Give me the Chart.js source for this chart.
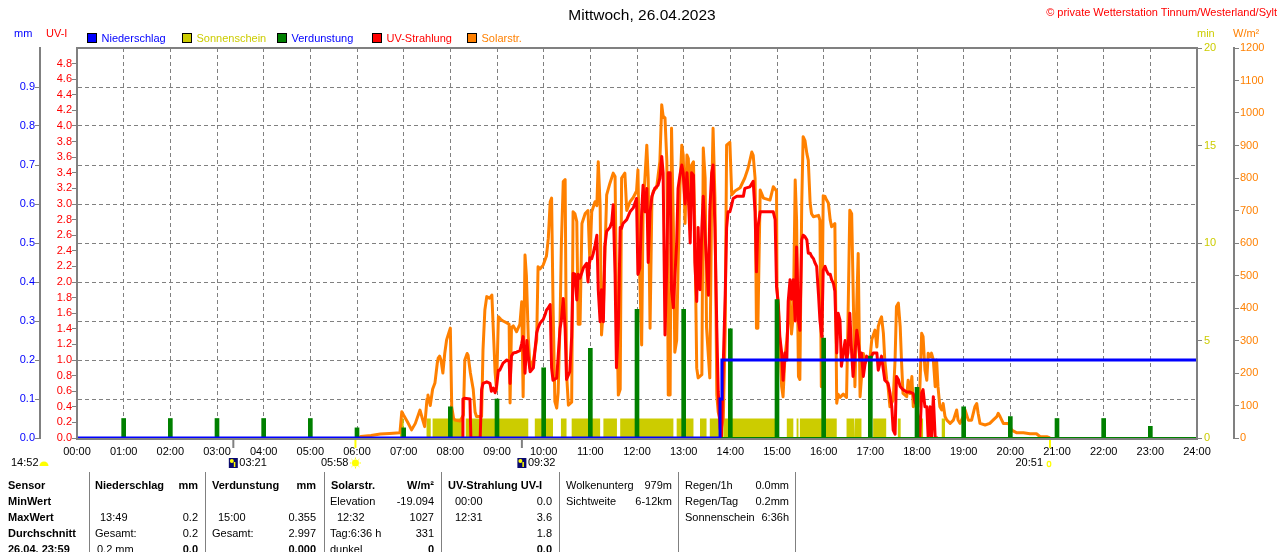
<!DOCTYPE html>
<html><head><meta charset="utf-8">
<script src="https://cdn.jsdelivr.net/npm/chart.js@4.4.0/dist/chart.umd.min.js"></script>
<style>
html,body{margin:0;padding:0;background:#fff;}
#wrap{position:relative;width:1280px;height:552px;overflow:hidden;font-family:"Liberation Sans",Arial,sans-serif;font-size:11px;color:#000;}
#c{position:absolute;left:0;top:0;}
.t{position:absolute;white-space:nowrap;line-height:14px;}
.vl{position:absolute;width:1px;background:#808080;top:472px;height:80px;}
.sq{position:absolute;width:8px;height:8px;border:1px solid #000;}
</style></head><body><div id="wrap"><canvas id="c" width="1280" height="552"></canvas></div>
<script>
// ---------- DATA ----------
const hourTicks = [0,1,2,3,4,5,6,7,8,9,10,11,12,13,14,15,16,17,18,19,20,21,22,23,24];
// Solarstrahlung [hour, W/m²]
const solar = [[6.05,0],[6.08,5],[6.3,8],[6.5,12],[6.7,14],[6.92,16],[6.96,81],[7.0,70],[7.08,50],[7.17,25],[7.25,45],[7.35,86],[7.4,60],[7.45,35],[7.5,120],[7.52,132],[7.57,100],[7.62,150],[7.67,169],[7.72,230],[7.74,246],[7.77,252],[7.8,240],[7.84,200],[7.88,260],[7.92,302],[7.96,320],[8.0,338],[8.03,96],[8.07,60],[8.1,55],[8.21,52],[8.28,71],[8.31,240],[8.36,260],[8.38,255],[8.43,200],[8.49,150],[8.53,80],[8.56,66],[8.67,66],[8.7,271],[8.74,394],[8.78,435],[8.84,430],[8.89,440],[8.93,302],[8.96,200],[8.99,148],[9.03,373],[9.08,365],[9.13,360],[9.2,355],[9.26,350],[9.28,108],[9.31,340],[9.35,345],[9.42,327],[9.49,350],[9.53,419],[9.56,127],[9.6,563],[9.63,500],[9.67,310],[9.71,215],[9.78,240],[9.85,302],[9.88,527],[9.92,520],[9.99,532],[10.06,560],[10.1,615],[10.14,727],[10.17,738],[10.2,420],[10.24,112],[10.28,92],[10.31,140],[10.35,350],[10.38,600],[10.42,789],[10.46,795],[10.49,200],[10.53,101],[10.6,110],[10.63,696],[10.67,690],[10.71,666],[10.74,350],[10.78,350],[10.82,660],[10.89,691],[10.95,700],[10.99,542],[11.03,696],[11.1,727],[11.14,715],[11.17,850],[11.21,715],[11.24,317],[11.28,400],[11.31,550],[11.35,748],[11.42,784],[11.49,815],[11.53,805],[11.56,440],[11.6,132],[11.64,150],[11.67,800],[11.74,815],[11.78,700],[11.85,727],[11.92,740],[11.99,760],[12.02,825],[12.06,492],[12.1,286],[12.13,700],[12.21,901],[12.24,800],[12.28,338],[12.32,740],[12.35,760],[12.42,770],[12.49,850],[12.53,1025],[12.56,990],[12.6,985],[12.64,850],[12.67,132],[12.71,132],[12.74,953],[12.78,650],[12.81,264],[12.85,300],[12.88,525],[12.92,769],[12.96,901],[12.99,871],[13.03,660],[13.07,871],[13.1,860],[13.14,640],[13.17,840],[13.21,850],[13.24,640],[13.28,215],[13.31,185],[13.39,195],[13.42,892],[13.46,800],[13.49,340],[13.56,185],[13.6,740],[13.63,953],[13.67,740],[13.71,132],[13.74,80],[13.81,31],[13.85,60],[13.89,330],[13.92,901],[13.99,910],[14.03,748],[14.1,760],[14.21,770],[14.31,800],[14.38,830],[14.46,880],[14.49,870],[14.53,800],[14.56,338],[14.59,338],[14.64,763],[14.71,738],[14.85,732],[14.92,773],[14.99,760],[15.0,465],[15.03,400],[15.06,300],[15.1,158],[15.13,127],[15.17,250],[15.21,300],[15.28,435],[15.31,320],[15.35,380],[15.39,794],[15.42,670],[15.46,189],[15.49,180],[15.53,720],[15.56,927],[15.6,915],[15.64,875],[15.67,855],[15.71,723],[15.74,690],[15.78,681],[15.89,685],[15.92,670],[15.95,158],[15.99,745],[16.03,743],[16.06,733],[16.1,723],[16.14,671],[16.17,650],[16.24,660],[16.28,107],[16.31,135],[16.35,125],[16.42,135],[16.49,125],[16.52,350],[16.56,701],[16.6,690],[16.63,470],[16.67,158],[16.71,415],[16.74,568],[16.78,127],[16.85,260],[16.89,230],[16.92,240],[16.99,240],[17.03,302],[17.1,332],[17.14,280],[17.17,343],[17.21,363],[17.24,373],[17.28,322],[17.31,240],[17.35,180],[17.38,158],[17.42,96],[17.49,117],[17.53,240],[17.56,405],[17.6,415],[17.64,343],[17.67,230],[17.7,137],[17.78,127],[17.81,178],[17.85,137],[17.89,189],[17.92,96],[17.96,117],[18.02,96],[18.06,148],[18.1,322],[18.13,312],[18.17,210],[18.21,178],[18.24,261],[18.28,250],[18.31,261],[18.35,240],[18.39,158],[18.42,240],[18.45,158],[18.49,96],[18.53,86],[18.56,106],[18.6,66],[18.64,55],[18.71,45],[18.78,55],[18.85,86],[18.88,55],[18.92,45],[18.99,66],[19.03,86],[19.1,55],[19.17,55],[19.24,96],[19.28,106],[19.31,76],[19.35,45],[19.46,40],[19.56,45],[19.63,55],[19.71,66],[19.74,76],[19.78,66],[19.85,45],[19.96,45],[20.03,24],[20.14,16],[20.28,16],[20.42,13],[20.56,13],[20.64,4],[20.78,4],[20.85,0]];
// UV-Strahlung [hour, UV-I]
const uv = [[8.25,0],[8.27,0.5],[8.3,0.51],[8.42,0.5],[8.44,0],[8.64,0],[8.67,0.62],[8.7,0.7],[8.78,0.72],[8.85,0.7],[8.88,0.6],[8.92,0.64],[8.96,0.58],[8.99,0.66],[9.03,0.87],[9.06,0.87],[9.13,0.96],[9.21,1.0],[9.26,0.98],[9.28,0.7],[9.31,1.05],[9.35,1.09],[9.42,1.1],[9.49,1.12],[9.53,1.21],[9.56,1.3],[9.6,0.83],[9.64,1.25],[9.67,1.05],[9.71,0.85],[9.78,0.9],[9.81,1.1],[9.85,1.35],[9.88,1.41],[9.92,1.47],[9.96,1.5],[9.99,1.52],[10.03,1.58],[10.06,1.64],[10.1,1.67],[10.14,1.71],[10.17,0.9],[10.2,0.74],[10.28,0.77],[10.31,1.04],[10.35,1.4],[10.38,1.51],[10.42,1.79],[10.46,1.4],[10.49,0.75],[10.56,0.85],[10.6,1.3],[10.63,2.11],[10.67,2.1],[10.71,1.77],[10.74,2.1],[10.78,2.05],[10.85,2.18],[10.92,2.24],[10.95,2.0],[10.99,2.31],[11.03,2.3],[11.06,2.36],[11.1,2.47],[11.14,2.6],[11.17,1.9],[11.21,1.49],[11.24,1.9],[11.28,1.49],[11.31,2.45],[11.35,2.65],[11.42,2.7],[11.46,2.77],[11.49,2.99],[11.53,2.1],[11.56,0.9],[11.6,1.41],[11.64,2.7],[11.67,2.69],[11.7,2.75],[11.78,2.8],[11.85,2.9],[11.92,2.95],[11.99,3.07],[12.02,2.1],[12.06,2.18],[12.1,2.9],[12.13,3.24],[12.17,2.9],[12.21,3.2],[12.24,2.25],[12.28,2.9],[12.32,3.1],[12.38,3.2],[12.45,3.24],[12.49,3.33],[12.53,3.61],[12.56,3.4],[12.6,1.32],[12.64,2.25],[12.67,3.4],[12.71,3.4],[12.74,1.9],[12.78,1.67],[12.81,2.05],[12.85,2.5],[12.88,3.2],[12.92,3.37],[12.96,3.5],[12.99,3.4],[13.03,3.0],[13.07,3.4],[13.1,3.1],[13.14,2.5],[13.17,3.4],[13.21,3.37],[13.24,2.25],[13.28,1.75],[13.31,2.7],[13.35,1.9],[13.39,2.7],[13.42,3.1],[13.46,2.6],[13.49,2.25],[13.53,1.83],[13.56,2.9],[13.6,3.4],[13.63,3.5],[13.67,2.7],[13.71,1.41],[13.74,0.6],[13.78,0.13],[13.81,0],[13.85,0.98],[13.89,1.83],[13.92,2.69],[13.95,2.9],[13.99,2.9],[14.03,2.99],[14.06,3.07],[14.14,3.1],[14.28,3.1],[14.31,3.2],[14.42,3.22],[14.49,3.29],[14.53,2.9],[14.56,2.13],[14.59,2.7],[14.64,2.9],[14.71,2.9],[14.92,2.9],[14.96,2.8],[14.99,1.94],[15.03,1.7],[15.06,1.3],[15.1,1.09],[15.13,0.74],[15.17,1.09],[15.21,1.0],[15.24,1.75],[15.28,2.03],[15.31,1.78],[15.35,2.03],[15.39,1.5],[15.42,2.45],[15.46,1.5],[15.49,1.38],[15.53,2.54],[15.56,2.6],[15.6,2.58],[15.64,2.54],[15.67,2.37],[15.71,2.37],[15.74,2.33],[15.78,2.3],[15.81,2.25],[15.85,2.2],[15.89,1.83],[15.92,1.51],[15.96,1.3],[15.99,2.15],[16.03,2.2],[16.06,2.15],[16.1,2.1],[16.14,2.1],[16.17,2.03],[16.21,1.98],[16.24,1.88],[16.28,1.09],[16.31,1.6],[16.35,1.51],[16.38,0.92],[16.42,1.09],[16.46,1.25],[16.49,1.0],[16.52,1.09],[16.56,1.6],[16.6,1.09],[16.63,0.79],[16.67,1.09],[16.71,1.38],[16.74,1.25],[16.78,1.0],[16.81,1.09],[16.85,0.79],[16.89,0.96],[16.92,1.05],[16.99,1.0],[17.06,1.09],[17.14,1.09],[17.17,0.87],[17.24,1.05],[17.28,0.87],[17.31,0.74],[17.38,0.7],[17.42,0.58],[17.46,0.4],[17.49,0.1],[17.53,0.05],[17.56,0.79],[17.6,0.75],[17.64,0.66],[17.7,0.62],[17.78,0.59],[17.85,0.59],[17.92,0.57],[17.96,0.45],[17.99,0.53],[18.02,0.23],[18.06,0],[18.1,0.58],[18.13,0.62],[18.17,0.4],[18.21,0.4],[18.24,0],[18.28,0.4],[18.31,0],[18.35,0.53],[18.39,0],[18.45,0]];
// Sonnenschein: sunny intervals [start hour, end hour], value 1 min per minute
const sunIntervals = [[6.92,7.0],[7.49,7.58],[7.62,8.28],[8.33,9.67],[9.81,10.2],[10.37,10.49],[10.6,11.21],[11.28,11.57],[11.64,12.78],[12.85,13.21],[13.35,13.49],[13.56,13.77],[13.85,14.96],[15.21,15.35],[15.42,15.46],[15.49,16.28],[16.49,16.65],[16.67,16.81],[17.06,17.34],[17.59,17.65],[18.05,18.13],[18.53,18.6]];
const sunValue = 1;
// Verdunstung hourly [hour, mm]
const evap = [[1,0.05],[2,0.05],[3,0.05],[4,0.05],[5,0.05],[6,0.026],[7,0.026],[8,0.08],[9,0.10],[10,0.18],[11,0.23],[12,0.33],[13,0.33],[14,0.28],[15,0.355],[16,0.256],[17,0.21],[18,0.13],[19,0.08],[20,0.055],[21,0.05],[22,0.05],[23,0.03]];
// Niederschlag cumulative [hour, mm]
const rain = [[0,0],[13.78,0.1],[13.82,0.2],[24,0.2]];
// Sun / moon events [hour, label, kind]
const events = [[3.35,'03:21','moon'],[5.9667,'05:58','sunrise'],[9.5333,'09:32','moon'],[20.85,'20:51','sunset']];

// ---------- CHART ----------
const F = '"Liberation Sans", Arial, sans-serif';
Chart.defaults.font.family = F;
Chart.defaults.font.size = 11;
const GRAY = '#808080';
const pts = arr => arr.map(p => ({x:p[0], y:p[1]}));
const sunPts = [];
sunIntervals.forEach(([s,e]) => { sunPts.push({x:s,y:0},{x:s,y:sunValue},{x:e,y:sunValue},{x:e,y:0}); });
const pad2 = v => (v<10?'0':'')+v;

const framePlugin = {
  id:'frame',
  afterDatasetsDraw(chart){
    const {ctx, chartArea:a} = chart;
    ctx.save(); ctx.strokeStyle=GRAY; ctx.lineWidth=2;
    ctx.strokeRect(a.left, a.top, a.right-a.left, a.bottom-a.top+1);
    ctx.restore();
  }
};
const eventPlugin = {
  id:'events',
  afterDraw(chart){
    const {ctx, chartArea:a} = chart; const xs = chart.scales.x;
    ctx.save();
    ctx.font = '11px '+F; ctx.textBaseline='middle'; ctx.fillStyle='#000';
    const y = 463;
    ctx.textAlign='left'; ctx.fillText('14:52', 11, y);
    ctx.fillStyle='#FFFF00'; ctx.beginPath(); ctx.arc(44, 466, 4.5, Math.PI, 0); ctx.closePath(); ctx.fill();
    events.forEach(([t,lab,kind]) => {
      const x = xs.getPixelForValue(t);
      const sun = kind==='sunrise'||kind==='sunset';
      ctx.strokeStyle = sun ? '#FFFF00' : GRAY; ctx.lineWidth = 2;
      ctx.beginPath(); ctx.moveTo(x, a.bottom+2); ctx.lineTo(x, a.bottom+10); ctx.stroke();
      ctx.fillStyle='#000';
      if (sun) {
        ctx.textAlign='right'; ctx.fillText(lab, x-7, y);
        if (kind==='sunrise') {
          ctx.fillStyle='#FFFF00'; ctx.beginPath(); ctx.arc(x, y, 3.5, 0, Math.PI*2); ctx.fill();
          ctx.strokeStyle='#FFFF00'; ctx.lineWidth=1;
          for (let k=0;k<8;k++){ const an=k*Math.PI/4; ctx.beginPath(); ctx.moveTo(x+Math.cos(an)*4,y+Math.sin(an)*4); ctx.lineTo(x+Math.cos(an)*5.5,y+Math.sin(an)*5.5); ctx.stroke(); }
        } else {
          ctx.strokeStyle='#FFFF00'; ctx.lineWidth=1.2; ctx.beginPath(); ctx.ellipse(x-1, y+1, 1.8, 2.6, 0, 0, Math.PI*2); ctx.stroke();
        }
      } else {
        ctx.fillStyle='#0A0A6E'; ctx.fillRect(x-4.5, y-5, 9, 10);
        ctx.fillStyle='#FFFF00'; ctx.beginPath(); ctx.arc(x-1.5, y-2, 2, 0, Math.PI*2); ctx.fill();
        ctx.fillRect(x+0.5, y-1, 1.5, 5);
        ctx.fillStyle='#000'; ctx.textAlign='left'; ctx.fillText(lab, x+6, y);
      }
    });
    ctx.restore();
  }
};

new Chart(document.getElementById('c'), {
  type:'line',
  data:{ datasets:[
    {label:'Niederschlag', data:pts(rain), yAxisID:'mm', borderColor:'#0000FF', borderWidth:3, stepped:'before', pointRadius:0, fill:false},
    {type:'bar', label:'Verdunstung', data:pts(evap), yAxisID:'mm', backgroundColor:'#008000', barThickness:4, borderWidth:0},
    {label:'Verdunstung0', data:[{x:0,y:0},{x:24,y:0}], yAxisID:'mm', borderColor:'#008000', borderWidth:2, pointRadius:0, fill:false},
    {label:'UV-Strahlung', data:pts(uv), yAxisID:'uv', borderColor:'#FF0000', borderWidth:3, pointRadius:0, fill:false, borderJoinStyle:'round', tension:0},
    {label:'Solarstr.', data:pts(solar), yAxisID:'w', borderColor:'#FF8000', borderWidth:3, pointRadius:0, fill:false, borderJoinStyle:'round', tension:0},
    {label:'Sonnenschein', data:sunPts, yAxisID:'min', borderColor:'rgba(0,0,0,0)', borderWidth:0, backgroundColor:'#CCCC00', fill:'origin', pointRadius:0}
  ]},
  options:{
    responsive:false, animation:false, events:[],
    layout:{padding:{top:48,left:0,right:0,bottom:0}},
    plugins:{legend:{display:false}, tooltip:{enabled:false}},
    scales:{
      x:{type:'linear', position:'bottom', min:0, max:24, offset:false,
         afterBuildTicks: s => { s.ticks = hourTicks.map(v=>({value:v})); },
         ticks:{padding:7, color:'#000', maxRotation:0, autoSkip:false, callback:v=>pad2(v)+':00'},
         grid:{color:GRAY, lineWidth:1, drawTicks:false, offset:false},
         border:{display:false, dash:[4,3]},
         afterFit: s => { s.height = 114; }},
      mm:{type:'linear', position:'left', min:0, max:1, weight:2,
         ticks:{stepSize:0.1, padding:0, color:'#0000FF', autoSkip:false, callback:v=> v>0.95?'':v.toFixed(1)},
         grid:{color:GRAY, lineWidth:1, tickLength:5, tickColor: c => (c.tick && c.tick.value>0.95)?'rgba(0,0,0,0)':GRAY},
         border:{display:true, color:GRAY, width:2, dash:[4,3]},
         afterFit: s => { s.width = 40; }},
      uv:{type:'linear', position:'left', min:0, max:5, weight:1,
         ticks:{stepSize:0.2, padding:0, color:'#FF0000', autoSkip:false, callback:v=> v>4.9?'':v.toFixed(1)},
         grid:{drawOnChartArea:false, color:GRAY, tickLength:5, tickColor: c => (c.tick && c.tick.value>4.9)?'rgba(0,0,0,0)':GRAY},
         border:{display:false},
         afterFit: s => { s.width = 37; }},
      min:{type:'linear', position:'right', min:0, max:20, weight:1,
         ticks:{stepSize:5, padding:2, color:'#CCCC00', autoSkip:false, callback:v=>String(v)},
         grid:{drawOnChartArea:false, color:GRAY, tickLength:5},
         border:{display:false},
         afterFit: s => { s.width = 37; }},
      w:{type:'linear', position:'right', min:0, max:1200, weight:2,
         ticks:{stepSize:100, padding:1, color:'#FF8000', autoSkip:false, callback:v=>String(v)},
         grid:{drawOnChartArea:false, color:GRAY, tickLength:5},
         border:{display:true, color:GRAY, width:2},
         afterFit: s => { s.width = 46; }}
    }
  },
  plugins:[framePlugin, eventPlugin]
});

// ---------- TEXT OVERLAYS ----------
const wrap = document.getElementById('wrap');
function T(txt, x, y, o){
  o = o||{};
  const d = document.createElement('div'); d.className='t'; d.textContent = txt;
  const fs = o.size||11; const lh = Math.round(fs*1.3);
  d.style.fontSize = fs+'px'; d.style.lineHeight = lh+'px';
  d.style.top = (y - lh/2)+'px';
  if (o.align==='right') d.style.right = (1280-x)+'px';
  else if (o.align==='center') { d.style.left=(x-300)+'px'; d.style.width='600px'; d.style.textAlign='center'; }
  else d.style.left = x+'px';
  if (o.color) d.style.color = o.color;
  if (o.bold) d.style.fontWeight='bold';
  wrap.appendChild(d);
}
function SQ(x,y,c){ const d=document.createElement('div'); d.className='sq'; d.style.left=x+'px'; d.style.top=y+'px'; d.style.background=c; wrap.appendChild(d); }
function VL(x){ const d=document.createElement('div'); d.className='vl'; d.style.left=x+'px'; wrap.appendChild(d); }

T('Mittwoch, 26.04.2023', 642, 15, {align:'center', size:15.5});
T('\u00A9 private Wetterstation Tinnum/Westerland/Sylt', 1277, 12, {align:'right', color:'#FF0000'});
T('mm', 14, 33, {color:'#0000FF'});
T('UV-I', 46, 33, {color:'#FF0000'});
T('min', 1197, 33, {color:'#CCCC00'});
T('W/m\u00B2', 1233, 33, {color:'#FF8000'});
const legend = [[87,'Niederschlag','#0000FF','#0000FF'],[182,'Sonnenschein','#CCCC00','#CCCC00'],[277,'Verdunstung','#008000','#0000FF'],[372,'UV-Strahlung','#FF0000','#FF0000'],[467,'Solarstr.','#FF8000','#FF8000']];
legend.forEach(([x,l,c,tc]) => { SQ(x,33,c); T(l, x+14.5, 38, {color:tc}); });

// table
[89,205,324,441,559,678,795].forEach(VL);
const rows = [485,501,517,533,549];
['Sensor','MinWert','MaxWert','Durchschnitt','26.04. 23:59'].forEach((s,i)=>T(s,8,rows[i],{bold:true}));
T('Niederschlag',95,rows[0],{bold:true}); T('mm',198,rows[0],{bold:true,align:'right'});
T('13:49',100,rows[2]); T('0.2',198,rows[2],{align:'right'});
T('Gesamt:',95,rows[3]); T('0.2',198,rows[3],{align:'right'});
T('0.2 mm',97,rows[4]); T('0.0',198,rows[4],{align:'right',bold:true});
T('Verdunstung',212,rows[0],{bold:true}); T('mm',316,rows[0],{bold:true,align:'right'});
T('15:00',218,rows[2]); T('0.355',316,rows[2],{align:'right'});
T('Gesamt:',212,rows[3]); T('2.997',316,rows[3],{align:'right'});
T('0.000',316,rows[4],{align:'right',bold:true});
T('Solarstr.',331,rows[0],{bold:true}); T('W/m\u00B2',434,rows[0],{bold:true,align:'right'});
T('Elevation',330,rows[1]); T('-19.094',434,rows[1],{align:'right'});
T('12:32',337,rows[2]); T('1027',434,rows[2],{align:'right'});
T('Tag:6:36 h',330,rows[3]); T('331',434,rows[3],{align:'right'});
T('dunkel',330,rows[4]); T('0',434,rows[4],{align:'right',bold:true});
T('UV-Strahlung UV-I',448,rows[0],{bold:true});
T('00:00',455,rows[1]); T('0.0',552,rows[1],{align:'right'});
T('12:31',455,rows[2]); T('3.6',552,rows[2],{align:'right'});
T('1.8',552,rows[3],{align:'right'});
T('0.0',552,rows[4],{align:'right',bold:true});
T('Wolkenunterg',566,rows[0]); T('979m',672,rows[0],{align:'right'});
T('Sichtweite',566,rows[1]); T('6-12km',672,rows[1],{align:'right'});
T('Regen/1h',685,rows[0]); T('0.0mm',789,rows[0],{align:'right'});
T('Regen/Tag',685,rows[1]); T('0.2mm',789,rows[1],{align:'right'});
T('Sonnenschein',685,rows[2]); T('6:36h',789,rows[2],{align:'right'});
</script></body></html>
